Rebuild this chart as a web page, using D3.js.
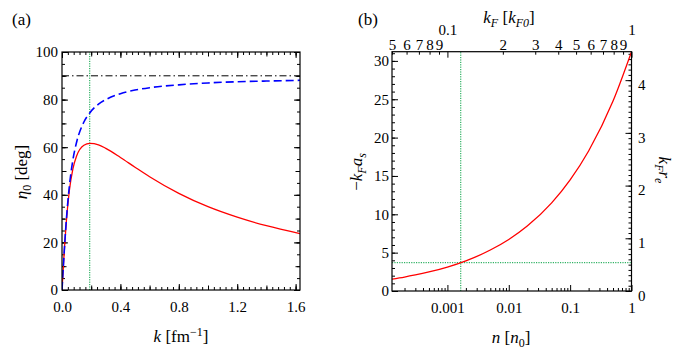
<!DOCTYPE html>
<html>
<head>
<meta charset="utf-8">
<script src="https://cdn.jsdelivr.net/npm/d3@7"></script>
<style>
#fig, #fig text, #fig tspan { font-family: "Liberation Serif", "Times New Roman", Times, serif !important; }
</style>
</head>
<body style="margin:0">
<svg id="fig" width="681" height="355" style="font-family: 'Liberation Serif', serif"></svg>
<script>
// panel (a): phase shift vs k
var kVals = [0, 0.01, 0.02, 0.03, 0.05, 0.075, 0.1, 0.15, 0.19, 0.25, 0.3, 0.4, 0.5, 0.6, 0.8, 1.0, 1.2, 1.4, 1.63]
var etaFull = [0, 10.7, 20.5, 29.0, 41.6, 51.0, 56.3, 60.8, 61.6, 61.0, 59.5, 55.7, 51.6, 47.6, 40.6, 35.0, 30.6, 27.0, 23.7]
var etaScatt = [0, 10.7, 20.7, 29.6, 43.4, 54.8, 62.1, 70.6, 74.4, 78.1, 80.0, 82.5, 84.0, 85.0, 86.2, 87.0, 87.5, 87.8, 88.1]
var etaLimit = 90
var kMark = 0.19
var kTicks = [0, 0.4, 0.8, 1.2, 1.6]
var etaTicks = [0, 20, 40, 60, 80, 100]

// panel (b): -kF as vs density
var nVals = [1.25e-4, 2e-4, 3e-4, 5e-4, 1e-3, 2e-3, 5e-3, 0.01, 0.02, 0.05, 0.1, 0.2, 0.5, 1]
var kfas = [1.56, 1.82, 2.09, 2.48, 3.12, 3.93, 5.34, 6.72, 8.47, 11.49, 14.48, 18.25, 24.76, 31.2]
var nMark = 1.65e-3
var kfasMark = 3.69
var nTicks = [0.001, 0.01, 0.1, 1]
var nTickLabels = ["0.001", "0.01", "0.1", "1"]
var kfMajor = [0.1, 1]
var kfMinor = [0.05, 0.06, 0.07, 0.08, 0.09, 0.2, 0.3, 0.4, 0.5, 0.6, 0.7, 0.8, 0.9]
var kfMinorLabels = ["5", "6", "7", "8", "9", "2", "3", "4", "5", "6", "7", "8", "9"]
var kfasTicks = [0, 5, 10, 15, 20, 25, 30]
var kfreTicks = [0, 1, 2, 3, 4]

var svg = d3.select("#fig")
var serif = "'Liberation Serif', serif"
var green = "#00a040"

var range = (a, b, s) => d3.range(a, b + s / 2, s).map(v => +v.toFixed(4))

function styleAxis(g) {
  g.attr("font-size", 15).attr("font-family", serif)
  g.select(".domain").remove()
  g.selectAll(".tick line").attr("stroke", "#000").attr("stroke-width", 1)
  g.selectAll(".tick text").attr("fill", "#000")
  return g
}

// ---------- panel (a) ----------
var xa = d3.scaleLinear().domain([0, 1.63]).range([62, 300])
var ya = d3.scaleLinear().domain([0, 100]).range([290, 52])

svg.append("clipPath").attr("id", "clipA").append("rect")
  .attr("x", 62).attr("y", 52).attr("width", 238).attr("height", 238)

// minor/mid/major ticks on all four sides
var xMinA = range(0, 1.6, 0.04), xMidA = range(0, 1.6, 0.2)
var yMinA = range(0, 100, 5), yMidA = range(0, 100, 10)
;[[xMinA, 3], [xMidA, 4.5], [kTicks, 6]].forEach(function(t) {
  svg.append("g").attr("transform", "translate(0,290)")
    .call(d3.axisBottom(xa).tickValues(t[0]).tickSize(-t[1]).tickFormat(""))
    .call(styleAxis)
  svg.append("g").attr("transform", "translate(0,52)")
    .call(d3.axisTop(xa).tickValues(t[0]).tickSize(-t[1]).tickFormat(""))
    .call(styleAxis)
})
;[[yMinA, 3], [yMidA, 4.5], [etaTicks, 6]].forEach(function(t) {
  svg.append("g").attr("transform", "translate(62,0)")
    .call(d3.axisLeft(ya).tickValues(t[0]).tickSize(-t[1]).tickFormat(""))
    .call(styleAxis)
  svg.append("g").attr("transform", "translate(300,0)")
    .call(d3.axisRight(ya).tickValues(t[0]).tickSize(-t[1]).tickFormat(""))
    .call(styleAxis)
})
svg.append("g").attr("transform", "translate(0,290)")
  .call(d3.axisBottom(xa).tickValues(kTicks).tickSize(0).tickPadding(11).tickFormat(d3.format(".1f")))
  .call(styleAxis)
svg.append("g").attr("transform", "translate(62,0)")
  .call(d3.axisLeft(ya).tickValues(etaTicks).tickSize(0).tickPadding(4).tickFormat(d3.format("d")))
  .call(styleAxis)

var plotA = svg.append("g").attr("clip-path", "url(#clipA)")
plotA.append("line")
  .attr("x1", xa(kMark)).attr("x2", xa(kMark)).attr("y1", ya(0)).attr("y2", ya(100))
  .attr("stroke", green).attr("stroke-width", 1).attr("stroke-dasharray", "1.2,1.2")
plotA.append("line")
  .attr("x1", xa(0)).attr("x2", xa(1.63)).attr("y1", ya(etaLimit)).attr("y2", ya(etaLimit))
  .attr("stroke", "#000").attr("stroke-width", 1).attr("stroke-dasharray", "7,3,1.5,3")

var lineA = d3.line().x((d, i) => xa(kVals[i])).y(d => ya(d)).curve(d3.curveMonotoneX)
plotA.append("path").attr("d", lineA(etaFull))
  .attr("fill", "none").attr("stroke", "#ff0000").attr("stroke-width", 1.3)
plotA.append("path").attr("d", lineA(etaScatt))
  .attr("fill", "none").attr("stroke", "#0000ff").attr("stroke-width", 1.6).attr("stroke-dasharray", "8,4")

svg.append("rect").attr("x", 62).attr("y", 52).attr("width", 238).attr("height", 238)
  .attr("fill", "none").attr("stroke", "#000").attr("stroke-width", 1.2)

svg.append("text").attr("x", 12).attr("y", 25).attr("font-size", 17).text("(a)")
var yl = svg.append("text").attr("transform", "translate(27,172) rotate(-90)")
  .attr("text-anchor", "middle").attr("font-size", 17)
yl.append("tspan").attr("font-style", "italic").text("η")
yl.append("tspan").attr("font-size", 12).attr("dy", 4).text("0")
yl.append("tspan").attr("dy", -4).text(" [deg]")
var xl = svg.append("text").attr("x", 181).attr("y", 342).attr("text-anchor", "middle").attr("font-size", 17)
xl.append("tspan").attr("font-style", "italic").text("k")
xl.append("tspan").text(" [fm")
xl.append("tspan").attr("font-size", 12).attr("dy", -6).text("−1")
xl.append("tspan").attr("dy", 6).text("]")

// ---------- panel (b) ----------
var xb = d3.scaleLog().domain([1.25e-4, 1]).range([392, 631.5])
var xt = d3.scaleLog().domain([0.05, 1]).range([392, 631.5])
var yb = d3.scaleLinear().domain([0, 31.2]).range([291, 51.7])
var yr = d3.scaleLinear().domain([0, 4.54]).range([291, 51.7])

svg.append("clipPath").attr("id", "clipB").append("rect")
  .attr("x", 392).attr("y", 51.7).attr("width", 239.5).attr("height", 239.3)

var nMinor = []
;[1e-4, 1e-3, 1e-2, 1e-1].forEach(function(dec) {
  d3.range(2, 10).forEach(function(m) {
    var v = +(m * dec).toPrecision(2)
    if (v >= 1.25e-4) nMinor.push(v)
  })
})
svg.append("g").attr("transform", "translate(0,291)")
  .call(d3.axisBottom(xb).tickValues(nMinor).tickSize(-3).tickFormat(""))
  .call(styleAxis)
svg.append("g").attr("transform", "translate(0,291)")
  .call(d3.axisBottom(xb).tickValues(nTicks).tickSize(-6).tickPadding(11)
    .tickFormat((d, i) => nTickLabels[i]))
  .call(styleAxis)

svg.append("g").attr("transform", "translate(0,51.7)")
  .call(d3.axisTop(xt).tickValues(kfMinor).tickSize(-3).tickPadding(2.2)
    .tickFormat((d, i) => kfMinorLabels[i]))
  .call(styleAxis)
svg.append("g").attr("transform", "translate(0,51.7)")
  .call(d3.axisTop(xt).tickValues(kfMajor).tickSize(-6).tickPadding(16.5)
    .tickFormat(d => d === 1 ? "1" : "0.1"))
  .call(styleAxis)

svg.append("g").attr("transform", "translate(392,0)")
  .call(d3.axisLeft(yb).tickValues(range(0, 31, 1)).tickSize(-3).tickFormat(""))
  .call(styleAxis)
svg.append("g").attr("transform", "translate(392,0)")
  .call(d3.axisLeft(yb).tickValues(kfasTicks).tickSize(-6).tickPadding(3).tickFormat(d3.format("d")))
  .call(styleAxis)

svg.append("g").attr("transform", "translate(631.5,0)")
  .call(d3.axisRight(yr).tickValues(range(0, 4.5, 0.1)).tickSize(-3).tickFormat(""))
  .call(styleAxis)
var rAx = svg.append("g").attr("transform", "translate(631.5,0)")
  .call(d3.axisRight(yr).tickValues(kfreTicks).tickSize(-6).tickPadding(6.5).tickFormat(d3.format("d")))
  .call(styleAxis)
rAx.selectAll(".tick text").attr("dy", "0.62em")

var plotB = svg.append("g").attr("clip-path", "url(#clipB)")
plotB.append("line")
  .attr("x1", xb(nMark)).attr("x2", xb(nMark)).attr("y1", yb(0)).attr("y2", yb(31.2))
  .attr("stroke", green).attr("stroke-width", 1).attr("stroke-dasharray", "1.2,1.2")
plotB.append("line")
  .attr("x1", xb(1.25e-4)).attr("x2", xb(1)).attr("y1", yb(kfasMark)).attr("y2", yb(kfasMark))
  .attr("stroke", green).attr("stroke-width", 1).attr("stroke-dasharray", "1.2,1.2")
var lineB = d3.line().x((d, i) => xb(nVals[i])).y(d => yb(d)).curve(d3.curveMonotoneX)
plotB.append("path").attr("d", lineB(kfas))
  .attr("fill", "none").attr("stroke", "#ff0000").attr("stroke-width", 1.3)

svg.append("rect").attr("x", 392).attr("y", 51.7).attr("width", 239.5).attr("height", 239.3)
  .attr("fill", "none").attr("stroke", "#000").attr("stroke-width", 1.2)

svg.append("text").attr("x", 358).attr("y", 25).attr("font-size", 17).text("(b)")

var lb = svg.append("text").attr("transform", "translate(362,172) rotate(-90)")
  .attr("text-anchor", "middle").attr("font-size", 17)
lb.append("tspan").text("−")
lb.append("tspan").attr("font-style", "italic").text("k")
lb.append("tspan").attr("font-style", "italic").attr("font-size", 12).attr("dy", 4).text("F")
lb.append("tspan").attr("font-style", "italic").attr("dy", -4).text("a")
lb.append("tspan").attr("font-style", "italic").attr("font-size", 12).attr("dy", 4).text("s")

var rb = svg.append("text").attr("transform", "translate(659,170) rotate(90)")
  .attr("text-anchor", "middle").attr("font-size", 17)
rb.append("tspan").attr("font-style", "italic").text("k")
rb.append("tspan").attr("font-style", "italic").attr("font-size", 12).attr("dy", 4).text("F")
rb.append("tspan").attr("font-style", "italic").attr("dy", -4).text("r")
rb.append("tspan").attr("font-style", "italic").attr("font-size", 12).attr("dy", 4).text("e")

var tb = svg.append("text").attr("x", 509).attr("y", 23).attr("text-anchor", "middle").attr("font-size", 17)
tb.append("tspan").attr("font-style", "italic").text("k")
tb.append("tspan").attr("font-style", "italic").attr("font-size", 12).attr("dy", 4).text("F")
tb.append("tspan").attr("dy", -4).text(" [")
tb.append("tspan").attr("font-style", "italic").text("k")
tb.append("tspan").attr("font-style", "italic").attr("font-size", 12).attr("dy", 4).text("F0")
tb.append("tspan").attr("dy", -4).text("]")

var bb = svg.append("text").attr("x", 511).attr("y", 343).attr("text-anchor", "middle").attr("font-size", 17)
bb.append("tspan").attr("font-style", "italic").text("n")
bb.append("tspan").text(" [")
bb.append("tspan").attr("font-style", "italic").text("n")
bb.append("tspan").attr("font-size", 12).attr("dy", 4).text("0")
bb.append("tspan").attr("dy", -4).text("]")

// serif face: attribute plus inline style on each text
svg.selectAll("text").attr("font-family", serif).style("font-family", serif)
</script>
</body>
</html>
